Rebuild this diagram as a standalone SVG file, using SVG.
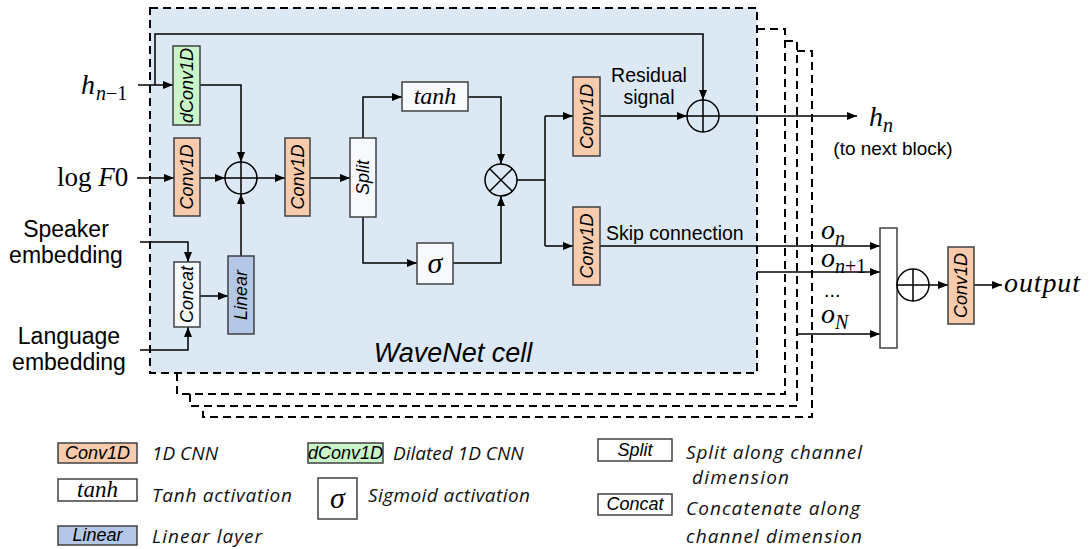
<svg xmlns="http://www.w3.org/2000/svg" width="1090" height="549" viewBox="0 0 1090 549">
<style>
.box{stroke:#404040;stroke-width:1.5}
.conv{fill:#f8cbad}
.dconv{fill:#c9f5c9}
.lin{fill:#b4c7e7}
.wht{fill:#f7f9fc}
.pure{fill:#fff}
.lbl{font-family:"Liberation Sans",Arial,sans-serif;font-style:italic;font-size:18px;fill:#000}
.sans{font-family:"Liberation Sans",Arial,sans-serif;fill:#000}
.math{font-family:"Liberation Serif","Times New Roman",serif;fill:#000}
.leg{font-family:"Open Sans",Lato,sans-serif;font-style:italic;font-size:19px;fill:#111}
.wire{fill:none;stroke:#000;stroke-width:1.5}
.arr{marker-end:url(#ah)}
.dash{fill:none;stroke:#000;stroke-width:2;stroke-dasharray:8 5}
.cellbox{fill:#dde8f5;stroke:#000;stroke-width:2;stroke-dasharray:8 5}
.op{fill:none;stroke:#000;stroke-width:1.5}
</style>
<defs>
<marker id="ah" markerWidth="10" markerHeight="8" refX="10" refY="4" orient="auto" markerUnits="userSpaceOnUse">
<path d="M0,0 L10,4 L0,8 z" fill="#000"/>
</marker>
</defs>

<g id="stack">
<path class="dash" d="M797,51 H812 V417 H203 V406"/>
<path class="dash" d="M785,41 H797 V406 H190 V394"/>
<path class="dash" d="M757,29 H785 V394 H177 V373"/>
<rect id="cell" class="cellbox" x="150" y="8" width="607" height="365"/>
<text class="sans" x="453" y="362" font-size="27" font-style="italic" text-anchor="middle">WaveNet cell</text>
</g>

<g id="connectors">
<path class="wire arr" d="M138,85 H173"/>
<path class="wire arr" d="M155,85 V34 H703 V100"/>
<path class="wire arr" d="M200,85 H241 V162"/>
<path class="wire arr" d="M137,178 H174"/>
<path class="wire arr" d="M200,178 H225"/>
<path class="wire arr" d="M257,178 H285"/>
<path class="wire arr" d="M310,178 H350"/>
<path class="wire arr" d="M363,138 V97 H402"/>
<path class="wire arr" d="M363,217 V263 H417"/>
<path class="wire arr" d="M468,97 H501 V164"/>
<path class="wire arr" d="M453,263 H501 V196"/>
<path class="wire" d="M517,180 H545 M545,116 V246"/>
<path class="wire arr" d="M545,116 H573"/>
<path class="wire arr" d="M545,246 H573"/>
<path class="wire arr" d="M600,116 H687"/>
<path class="wire arr" d="M719,116 H857"/>
<path class="wire arr" d="M600,246 H880"/>
<path class="wire arr" d="M757,272 H880"/>
<path class="wire arr" d="M798,334 H880"/>
<path class="wire arr" d="M140,242 H188 V262"/>
<path class="wire arr" d="M140,350 H188 V327"/>
<path class="wire arr" d="M200,296 H228"/>
<path class="wire arr" d="M241,256 V194"/>
<path class="wire arr" d="M929,285 H948"/>
<path class="wire arr" d="M974,285 H1002"/>
</g>

<g id="inputs">
<text class="math" x="81" y="94" font-size="28" font-style="italic">h</text>
<text class="math" x="96" y="100" font-size="20"><tspan font-style="italic">n</tspan>−1</text>
<text class="math" x="57" y="186" font-size="27">log <tspan font-style="italic">F</tspan>0</text>
<text class="sans" x="66" y="237" font-size="23" text-anchor="middle">Speaker</text>
<text class="sans" x="66" y="263" font-size="23" text-anchor="middle">embedding</text>
<text class="sans" x="69" y="344" font-size="23" text-anchor="middle">Language</text>
<text class="sans" x="69" y="370" font-size="23" text-anchor="middle">embedding</text>
</g>

<g id="dconv">
<rect class="box dconv" x="173" y="46" width="27" height="79"/>
<text class="lbl" transform="translate(186.5,85.5) rotate(-90)" text-anchor="middle" dy="6">dConv1D</text>
</g>
<g id="conv_f0">
<rect class="box conv" x="174" y="138" width="26" height="78"/>
<text class="lbl" transform="translate(187,177) rotate(-90)" text-anchor="middle" dy="6">Conv1D</text>
</g>
<g id="sum1">
<circle class="op" cx="241" cy="178" r="16"/>
<path class="op" d="M225,178 H257 M241,162 V194"/>
</g>
<g id="conv_mid">
<rect class="box conv" x="285" y="138" width="25" height="78"/>
<text class="lbl" transform="translate(297.5,177) rotate(-90)" text-anchor="middle" dy="6">Conv1D</text>
</g>
<g id="concat">
<rect class="box wht" x="174" y="262" width="26" height="65"/>
<text class="lbl" transform="translate(187,294.5) rotate(-90)" text-anchor="middle" dy="6">Concat</text>
</g>
<g id="linear">
<rect class="box lin" x="228" y="256" width="26" height="78"/>
<text class="lbl" transform="translate(241,295) rotate(-90)" text-anchor="middle" dy="6">Linear</text>
</g>
<g id="split">
<rect class="box wht" x="350" y="138" width="26" height="79"/>
<text class="lbl" transform="translate(363,177.5) rotate(-90)" text-anchor="middle" dy="6">Split</text>
</g>
<g id="tanh">
<rect class="box wht" x="402" y="82" width="66" height="29"/>
<text class="math" x="435" y="104" font-size="24" font-style="italic" text-anchor="middle">tanh</text>
</g>
<g id="sigma">
<rect class="box wht" x="417" y="243" width="36" height="41"/>
<text class="math" x="435" y="273" font-size="30" font-style="italic" text-anchor="middle">σ</text>
</g>
<g id="mult">
<circle class="op" cx="501" cy="180" r="16"/>
<path class="op" d="M489.7,168.7 L512.3,191.3 M512.3,168.7 L489.7,191.3"/>
</g>
<g id="conv_res">
<rect class="box conv" x="573" y="77" width="27" height="79"/>
<text class="lbl" transform="translate(586.5,116.5) rotate(-90)" text-anchor="middle" dy="6">Conv1D</text>
</g>
<g id="conv_skip">
<rect class="box conv" x="573" y="207" width="27" height="78"/>
<text class="lbl" transform="translate(586.5,246) rotate(-90)" text-anchor="middle" dy="6">Conv1D</text>
</g>
<g id="labels">
<text class="sans" x="649" y="82" font-size="19.5" text-anchor="middle">Residual</text>
<text class="sans" x="649" y="104" font-size="19.5" text-anchor="middle">signal</text>
<text class="sans" x="606" y="240" font-size="19.5">Skip connection</text>
</g>
<g id="sum2">
<circle class="op" cx="703" cy="116" r="16"/>
<path class="op" d="M687,116 H719 M703,100 V132"/>
</g>
<g id="hn">
<text class="math" x="869" y="126" font-size="28" font-style="italic">h</text>
<text class="math" x="883" y="132" font-size="20" font-style="italic">n</text>
<text class="sans" x="893" y="155" font-size="19" text-anchor="middle">(to next block)</text>
</g>
<g id="skips">
<text class="math" x="821" y="239" font-size="28" font-style="italic">o</text>
<text class="math" x="835" y="245" font-size="20" font-style="italic">n</text>
<text class="math" x="821" y="267" font-size="28" font-style="italic">o</text>
<text class="math" x="835" y="273" font-size="20"><tspan font-style="italic">n</tspan>+1</text>
<text class="sans" x="824" y="297" font-size="20">...</text>
<text class="math" x="821" y="323" font-size="28" font-style="italic">o</text>
<text class="math" x="835" y="329" font-size="20" font-style="italic">N</text>
</g>
<g id="collect">
<rect class="box pure" x="880" y="228" width="17" height="120"/>
</g>
<g id="sum3">
<circle class="op" cx="913" cy="285" r="16"/>
<path class="op" d="M897,285 H929 M913,269 V301"/>
</g>
<g id="conv_out">
<rect class="box conv" x="948" y="247" width="26" height="77"/>
<text class="lbl" transform="translate(961,285.5) rotate(-90)" text-anchor="middle" dy="6">Conv1D</text>
</g>
<text class="math" x="1004" y="292" font-size="28" font-style="italic" textLength="76">output</text>

<g id="legend">
<rect class="box conv" x="58" y="443" width="79" height="20"/>
<text class="lbl" x="97.5" y="459" font-size="16" text-anchor="middle">Conv1D</text>
<text class="leg" x="152" y="460">1D CNN</text>
<rect class="box dconv" x="308" y="443" width="75" height="20"/>
<text class="lbl" x="345.5" y="459" font-size="16" text-anchor="middle">dConv1D</text>
<text class="leg" x="393" y="460">Dilated 1D CNN</text>
<rect class="box pure" x="58" y="479" width="79" height="22"/>
<text class="math" x="97.5" y="497" font-size="23" font-style="italic" text-anchor="middle">tanh</text>
<text class="leg" x="152" y="502" textLength="140">Tanh activation</text>
<rect class="box pure" x="318" y="478" width="39" height="41"/>
<text class="math" x="337.5" y="508" font-size="30" font-style="italic" text-anchor="middle">σ</text>
<text class="leg" x="368" y="502" textLength="162">Sigmoid activation</text>
<rect class="box lin" x="58" y="526" width="79" height="19"/>
<text class="lbl" x="97.5" y="541" font-size="16" text-anchor="middle">Linear</text>
<text class="leg" x="152" y="543" textLength="110">Linear layer</text>
<rect class="box pure" x="598" y="439" width="74" height="22"/>
<text class="lbl" x="635" y="456" font-size="16" text-anchor="middle">Split</text>
<text class="leg" x="686" y="459" textLength="176">Split along channel</text>
<text class="leg" x="692" y="484" textLength="97">dimension</text>
<rect class="box pure" x="598" y="494" width="74" height="21"/>
<text class="lbl" x="635" y="510" font-size="16" text-anchor="middle">Concat</text>
<text class="leg" x="686" y="515" textLength="174">Concatenate along</text>
<text class="leg" x="686" y="543" textLength="176">channel dimension</text>
</g>
</svg>
